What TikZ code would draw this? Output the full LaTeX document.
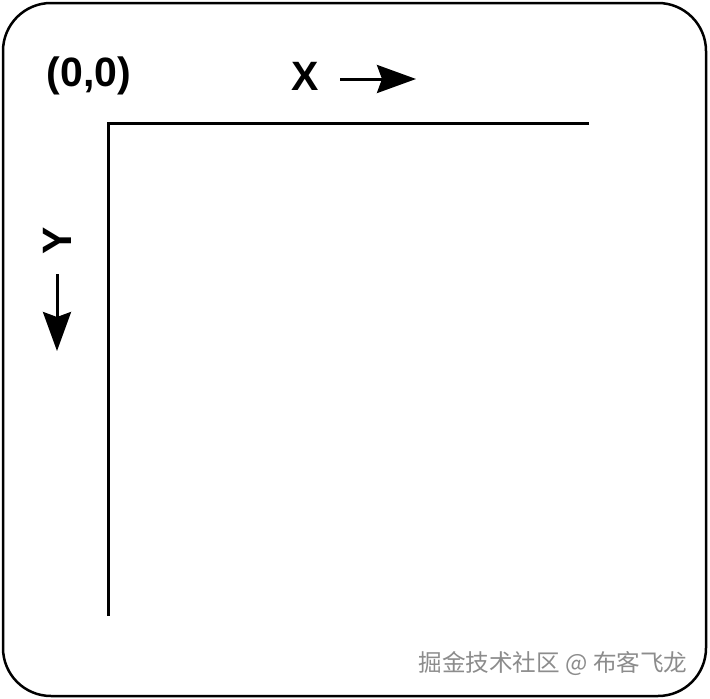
\documentclass[tikz,border=0pt]{standalone}
\usepackage{fontspec}
\setmainfont{Liberation Sans}
\newfontfamily\cjkfont{Noto Sans CJK SC}
\usetikzlibrary{arrows.meta}
\begin{document}
\begin{tikzpicture}[x=1pt,y=-1pt,
  lbl/.style={font=\fontsize{41}{41}\selectfont\bfseries, inner sep=0pt},
  axis/.style={line width=3pt},
  dirarrow/.style={line width=3pt, -{Stealth[length=39pt,width=28pt,inset=5pt]}},
  frame/.style={line width=2.5pt, rounded corners=48pt},
  wmark/.style={font=\cjkfont\fontsize{23.6}{23.6}\selectfont, text=black!45, inner sep=0pt}]
\useasboundingbox (0,0) rectangle (710,699);
\draw[frame] (3,3) rectangle (706,696);
\node[lbl] (origin) at (89,76) {(0,0)};
\node[lbl] (xlab) at (305.5,76.5) {X};
\coordinate (xs) at (340,79);
\coordinate (xe) at (416,79);
\draw[dirarrow] (xs) -- (xe);
\node[lbl, rotate=90] (ylab) at (57,241) {Y};
\coordinate (ys) at (57,274);
\coordinate (ye) at (57,351);
\draw[dirarrow] (ys) -- (ye);
\coordinate (o) at (108,123);
\coordinate (xend) at (589,123);
\coordinate (yend) at (108,616);
\draw[axis] (xend) -- (o) -- (yend);
\node[wmark] (wm) at (553,664) {掘金技术社区 @ 布客飞龙};
\end{tikzpicture}
\end{document}
